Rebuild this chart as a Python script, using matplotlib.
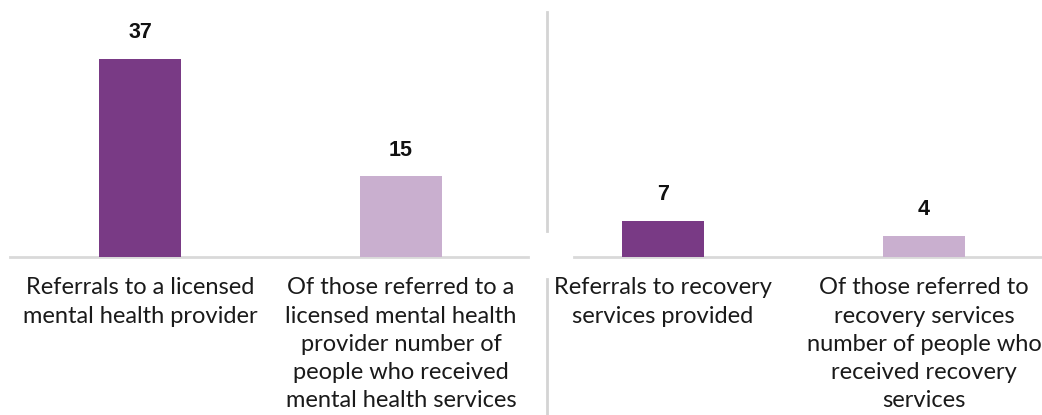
import matplotlib
matplotlib.use("Agg")
import matplotlib.pyplot as plt
from matplotlib.lines import Line2D

left_labels = ["Referrals to a licensed\nmental health provider",
               "Of those referred to a\nlicensed mental health\nprovider number of\npeople who received\nmental health services"]
left_values = [37, 15]
right_labels = ["Referrals to recovery\nservices provided",
                "Of those referred to\nrecovery services\nnumber of people who\nreceived recovery\nservices"]
right_values = [7, 4]
colors = ["#793A85", "#C9AFCF"]

W, H = 1042, 415
fig = plt.figure(figsize=(W / 100, H / 100), dpi=100)
fig.patch.set_facecolor("white")

BASE = 256.5   # baseline pixel row from top
TOP = 10

def make_ax(x0, x1, xlim, ylim_top):
    ax = fig.add_axes([x0 / W, (H - BASE) / H, (x1 - x0) / W, (BASE - TOP) / H])
    ax.set_xlim(*xlim)
    ax.set_ylim(0, ylim_top)
    for s in ax.spines.values():
        s.set_visible(False)
    ax.set_xticks([])
    ax.set_yticks([])
    ax.axhline(0, color="#D9D9D9", lw=2, zorder=1, clip_on=False)
    return ax

# left panel: bar centres at 140 and 401 px -> 261 px per unit
axL = make_ax(10, 528, ((10 - 140) / 261, (528 - 140) / 261), (BASE - TOP) / 5.35)
# right panel: bar centres at 663 and 924 px
axR = make_ax(574, 1042, ((574 - 663) / 261, (1042 - 663) / 261), (BASE - TOP) / 5.14)

tfont = dict(family=["Lato", "DejaVu Sans"], size=17, color="#1A1A1A")

for ax, labels, vals in ((axL, left_labels, left_values), (axR, right_labels, right_values)):
    xs = list(range(len(vals)))
    ax.bar(xs, vals, width=82 / 261, color=colors, zorder=2)
    for x, v, lab in zip(xs, vals, labels):
        ax.annotate(str(v), (x, v), xytext=(0, 26 * 0.72), textcoords="offset points",
                    ha="center", va="center", fontsize=15.5, fontweight="bold",
                    family=["Liberation Sans", "DejaVu Sans"], color="#111111")
        ax.annotate(lab, (x, 0), xytext=(0, -21 * 0.72), textcoords="offset points",
                    ha="center", va="top", linespacing=1.42, annotation_clip=False, **tfont)

# vertical separators
fig.add_artist(Line2D([547 / W, 547 / W], [(H - 12) / H, (H - 231) / H], color="#D4D4D4", lw=2))
fig.add_artist(Line2D([547 / W, 547 / W], [(H - 279) / H, 0], color="#D4D4D4", lw=2))

fig.savefig("out.png", dpi=100, facecolor="white")
